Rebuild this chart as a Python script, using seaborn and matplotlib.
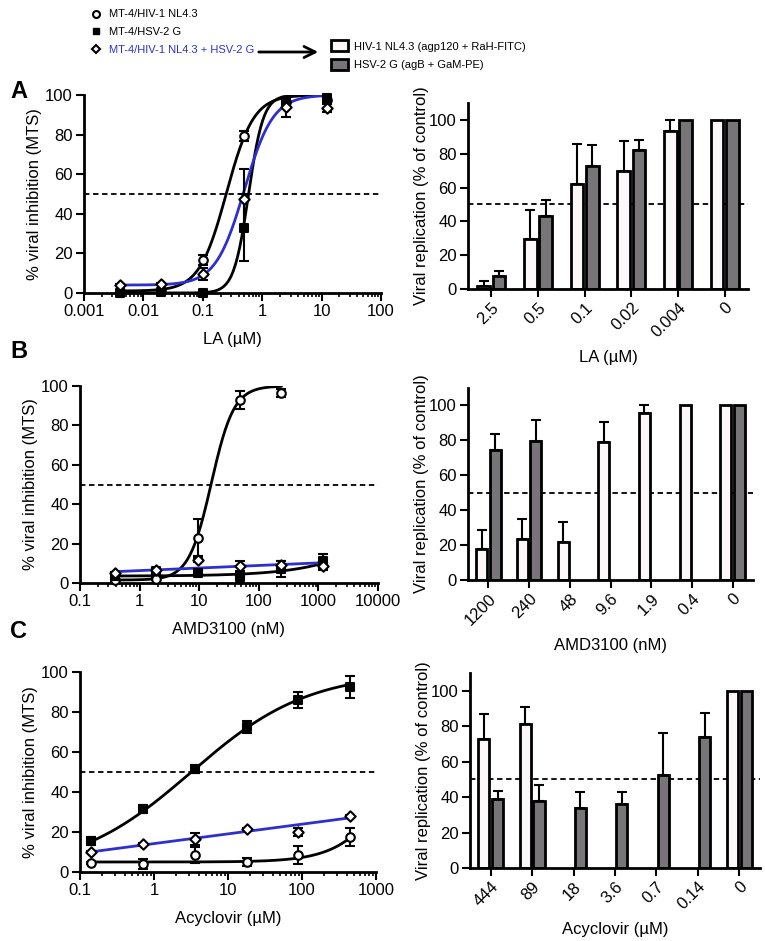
import numpy as np
import pandas as pd
import matplotlib
matplotlib.use("Agg")
import matplotlib.pyplot as plt
import seaborn as sns
from matplotlib.lines import Line2D
from matplotlib.patches import Patch, FancyArrowPatch
from matplotlib.ticker import FixedLocator, FuncFormatter, LogLocator, NullFormatter

sns.set_theme(style="ticks")
plt.rcParams["font.family"] = ["Liberation Sans", "DejaVu Sans"]
plt.rcParams["text.color"] = "black"
plt.rcParams["axes.labelcolor"] = "black"
plt.rcParams["xtick.color"] = "black"
plt.rcParams["ytick.color"] = "black"
plt.rcParams["axes.edgecolor"] = "black"

# =====================================
# Data
# =====================================

# --- A: LA dose response ---
la_conc = [0.004, 0.02, 0.1, 0.5, 2.5, 12.5]
a_hiv = [0.8, 1.2, 16.5, 79.5, 96.5, 97.5]
a_hiv_sd = [0.5, 0.5, 2.5, 2.5, 1.5, 1.5]
a_hsv = [0.0, 0.5, 0.0, 33.0, 97.0, 98.5]
a_hsv_sd = [0.3, 0.3, 0.3, 17.0, 2.0, 1.0]
a_mix = [4.0, 4.5, 9.5, 47.5, 94.0, 93.5]
a_mix_sd = [0.5, 0.5, 3.0, 15.0, 5.0, 2.0]
# 4PL fits: bottom, top, EC50, hill
a_hiv_fit = [1.0, 100.0, 0.25, 1.9]
a_hsv_fit = [0.0, 100.0, 0.59, 3.5]
a_mix_fit = [4.0, 100.0, 0.5, 1.8]

la_bar_labels = ["2.5", "0.5", "0.1", "0.02", "0.004", "0"]
la_bar_hiv = [2.0, 29.5, 62.0, 69.5, 93.5, 100.0]
la_bar_hiv_sd = [2.9, 17.5, 23.5, 18.2, 6.5, 0.0]
la_bar_hsv = [7.8, 43.0, 72.5, 82.0, 100.0, 100.0]
la_bar_hsv_sd = [2.6, 9.5, 12.5, 6.2, 0.0, 0.0]

# --- B: AMD3100 dose response ---
amd_conc = [0.38, 1.9, 9.6, 48, 240, 1200]
b_hiv = [1.5, 2.0, 23.0, 93.0, 96.5, np.nan]
b_hiv_sd = [0.5, 0.5, 9.5, 4.5, 2.0, np.nan]
b_hsv = [3.6, 6.0, 5.0, 2.8, 7.0, 11.2]
b_hsv_sd = [0.5, 1.0, 1.0, 3.0, 4.0, 3.5]
b_mix = [5.0, 6.5, 11.5, 8.7, 9.0, 8.7]
b_mix_sd = [0.5, 0.5, 1.0, 2.5, 2.0, 2.0]
b_hiv_fit = [1.5, 100.0, 16.0, 2.3]
b_hsv_fit = [3.5, 100.0, 95000.0, 0.6]
b_mix_line = [6.3, 1.3]  # intercept, slope vs log10(conc)

amd_bar_labels = ["1200", "240", "48", "9.6", "1.9", "0.4", "0"]
amd_bar_hiv = [17.6, 23.4, 21.6, 79.1, 95.8, 100.0, 100.0]
amd_bar_hiv_sd = [10.8, 11.5, 11.9, 11.3, 4.2, 0.0, 0.0]
amd_bar_hsv = [74.3, 79.9, np.nan, np.nan, np.nan, np.nan, 100.0]
amd_bar_hsv_sd = [9.4, 11.7, np.nan, np.nan, np.nan, np.nan, 0.0]

# --- C: Acyclovir dose response ---
acv_conc = [0.14, 0.7, 3.6, 18, 89, 444]
c_hiv = [4.5, 4.0, 8.5, 5.0, 8.5, 17.5]
c_hiv_sd = [0.5, 2.5, 4.0, 2.0, 4.5, 4.5]
c_hsv = [15.5, 31.6, 51.5, 72.5, 85.8, 92.5]
c_hsv_sd = [2.0, 2.0, 2.0, 3.0, 4.0, 5.5]
c_mix = [10.0, 14.0, 16.5, 21.5, 20.0, 28.0]
c_mix_sd = [0.5, 0.5, 3.0, 0.5, 2.0, 0.5]
c_hiv_fit = [5.0, 100.0, 2250.0, 1.19]
c_hsv_fit = [0.0, 100.0, 3.2, 0.55]
c_mix_line = [14.2, 4.86]

acv_bar_labels = ["444", "89", "18", "3.6", "0.7", "0.14", "0"]
acv_bar_hiv = [72.5, 81.5, np.nan, np.nan, np.nan, np.nan, 100.0]
acv_bar_hiv_sd = [14.3, 9.1, np.nan, np.nan, np.nan, np.nan, 0.0]
acv_bar_hsv = [38.8, 37.7, 33.9, 36.0, 52.4, 73.8, 100.0]
acv_bar_hsv_sd = [4.9, 9.0, 9.0, 6.6, 23.9, 13.8, 0.0]

# =====================================
# Styles
# =====================================

BLUE = "#2f2fd0"
WHITE_BAR = "#fdf6f8"
GRAY_BAR = "#78747a"
FS = 12
LEG_FS = 8

W, H = 765, 941
fig = plt.figure(figsize=(W / 100, H / 100), dpi=100)


def px_axes(x0, y0, x1, y1):
    return fig.add_axes([x0 / W, 1 - y1 / H, (x1 - x0) / W, (y1 - y0) / H])


def four_pl(x, p):
    bottom, top, ec50, hill = p
    return bottom + (top - bottom) / (1 + (ec50 / x) ** hill)


def style_axis(ax):
    sns.despine(ax=ax)
    for s in ["left", "bottom"]:
        ax.spines[s].set_linewidth(2)
    ax.tick_params(axis="both", which="major", direction="out", length=6,
                   width=1.5, labelsize=FS, color="black", pad=2)
    ax.tick_params(axis="both", which="minor", direction="out", length=3,
                   width=1.2, color="black")


def dose_panel(ax, conc, series, xlim, xticks, xlabel):
    ax.set_xscale("log")
    ax.axhline(50, color="black", ls=(0, (3, 2)), lw=1.3, zorder=1)
    for vals, sd, fit, kind, marker, face, line_color, x_end in series:
        xs = np.logspace(np.log10(conc[0]), np.log10(x_end), 200)
        if kind == "4pl":
            ys = four_pl(xs, fit)
        else:
            ys = fit[0] + fit[1] * np.log10(xs)
        sns.lineplot(x=xs, y=ys, color=line_color, lw=2, ax=ax, zorder=2,
                     legend=False, sort=False)
    for vals, sd, fit, kind, marker, face, line_color, x_end in series:
        ax.errorbar(conc, vals, yerr=sd, fmt="none", ecolor="black",
                    elinewidth=1.5, capsize=3.5, capthick=1.5, zorder=3,
                    clip_on=False)
        sns.scatterplot(x=conc, y=vals, marker=marker,
                        s=38 if marker != "D" else 28,
                        color=face, edgecolor="black", linewidth=1.5, zorder=4,
                        clip_on=False, legend=False, ax=ax)
    ax.set_xlim(*xlim)
    ax.set_ylim(0, 100)
    ax.set_yticks([0, 20, 40, 60, 80, 100])
    ax.xaxis.set_major_locator(FixedLocator(xticks))
    ax.xaxis.set_major_formatter(FuncFormatter(lambda v, p: f"{v:g}"))
    ax.xaxis.set_minor_locator(LogLocator(base=10, subs=np.arange(2, 10), numticks=50))
    ax.xaxis.set_minor_formatter(NullFormatter())
    ax.set_xlabel(xlabel, fontsize=FS, labelpad=9)
    ax.set_ylabel("% viral inhibition (MTS)", fontsize=FS, labelpad=2)
    style_axis(ax)


def bar_panel(ax, labels, hiv, hiv_sd, hsv, hsv_sd, xlabel):
    n = len(labels)
    df = pd.DataFrame({
        "conc": labels * 2,
        "virus": ["HIV"] * n + ["HSV"] * n,
        "value": list(hiv) + list(hsv),
        "sd": list(hiv_sd) + list(hsv_sd),
    }).dropna(subset=["value"])
    ax.axhline(50, color="black", ls=(0, (3, 2)), lw=1.3, zorder=0)
    sns.barplot(data=df, x="conc", y="value", hue="virus", order=labels,
                hue_order=["HIV", "HSV"], palette=[WHITE_BAR, GRAY_BAR],
                edgecolor="black", linewidth=2, width=0.66, gap=0.18,
                errorbar=None, legend=False, ax=ax, zorder=2)
    offset = {"HIV": -0.165, "HSV": 0.165}
    for row in df.itertuples():
        if row.sd > 0:
            x = labels.index(row.conc) + offset[row.virus]
            ax.errorbar(x, row.value, yerr=[[0], [row.sd]], fmt="none",
                        ecolor="black", elinewidth=1.5, capsize=3.5,
                        capthick=1.5, zorder=1)
    ax.set_xlim(-0.5, n - 0.5)
    ax.set_ylim(0, 110)
    ax.set_yticks([0, 20, 40, 60, 80, 100])
    plt.setp(ax.get_xticklabels(), rotation=45, ha="right",
             rotation_mode="anchor")
    ax.set_xlabel(xlabel, fontsize=FS, labelpad=7)
    ax.set_ylabel("Viral replication (% of control)", fontsize=FS, labelpad=0)
    style_axis(ax)


# =====================================
# Panels
# =====================================

ax_a = px_axes(84, 95, 381, 293)
dose_panel(ax_a, la_conc, [
    (a_hiv, a_hiv_sd, a_hiv_fit, "4pl", "o", "white", "black", 12.5),
    (a_hsv, a_hsv_sd, a_hsv_fit, "4pl", "s", "black", "black", 12.5),
    (a_mix, a_mix_sd, a_mix_fit, "4pl", "D", "white", BLUE, 12.5),
], (0.001, 100), [0.001, 0.01, 0.1, 1, 10, 100], "LA (µM)")

ax_b = px_axes(80, 386, 378, 583)
dose_panel(ax_b, amd_conc, [
    (b_hiv, b_hiv_sd, b_hiv_fit, "4pl", "o", "white", "black", 240),
    (b_hsv, b_hsv_sd, b_hsv_fit, "4pl", "s", "black", "black", 1200),
    (b_mix, b_mix_sd, b_mix_line, "lin", "D", "white", BLUE, 1200),
], (0.1, 10000), [0.1, 1, 10, 100, 1000, 10000], "AMD3100 (nM)")

ax_c = px_axes(80, 672, 376, 872)
dose_panel(ax_c, acv_conc, [
    (c_hiv, c_hiv_sd, c_hiv_fit, "4pl", "o", "white", "black", 444),
    (c_hsv, c_hsv_sd, c_hsv_fit, "4pl", "s", "black", "black", 444),
    (c_mix, c_mix_sd, c_mix_line, "lin", "D", "white", BLUE, 444),
], (0.1, 1000), [0.1, 1, 10, 100, 1000], "Acyclovir (µM)")

bar_panel(px_axes(468, 103, 748, 289), la_bar_labels, la_bar_hiv,
          la_bar_hiv_sd, la_bar_hsv, la_bar_hsv_sd, "LA (µM)")
bar_panel(px_axes(468, 388, 753, 580), amd_bar_labels, amd_bar_hiv,
          amd_bar_hiv_sd, amd_bar_hsv, amd_bar_hsv_sd, "AMD3100 (nM)")
bar_panel(px_axes(470, 673, 760, 868), acv_bar_labels, acv_bar_hiv,
          acv_bar_hiv_sd, acv_bar_hsv, acv_bar_hsv_sd, "Acyclovir (µM)")

# =====================================
# Legends, arrow, panel letters
# =====================================

marker_handles = [
    Line2D([], [], ls="none", marker="o", ms=5, mfc="white", mec="black", mew=1.5),
    Line2D([], [], ls="none", marker="s", ms=5, mfc="black", mec="black"),
    Line2D([], [], ls="none", marker="D", ms=4.5, mfc="white", mec="black", mew=1.5),
]
leg1 = fig.legend(marker_handles,
                  ["MT-4/HIV-1 NL4.3", "MT-4/HSV-2 G", "MT-4/HIV-1 NL4.3 + HSV-2 G"],
                  loc="upper left", bbox_to_anchor=(86 / W, 1 - 5 / H),
                  frameon=False, fontsize=LEG_FS, handlelength=1.0,
                  handletextpad=0.7, labelspacing=0.7, borderaxespad=0)
leg1.get_texts()[2].set_color(BLUE)

bar_handles = [
    Patch(facecolor=WHITE_BAR, edgecolor="black", linewidth=2),
    Patch(facecolor=GRAY_BAR, edgecolor="black", linewidth=2),
]
fig.legend(bar_handles,
           ["HIV-1 NL4.3 (agp120 + RaH-FITC)", "HSV-2 G (agB + GaM-PE)"],
           loc="upper left", bbox_to_anchor=(327 / W, 1 - 36 / H),
           frameon=False, fontsize=LEG_FS, handlelength=1.5,
           handleheight=1.1, handletextpad=0.5, labelspacing=0.7,
           borderaxespad=0)

fig.add_artist(FancyArrowPatch(
    (256 / W, 1 - 52 / H), (321 / W, 1 - 52 / H), transform=fig.transFigure,
    arrowstyle="->", mutation_scale=20, lw=2, color="black"))

for letter, y in [("A", 92), ("B", 352), ("C", 632)]:
    fig.text(10 / W, 1 - y / H, letter, fontsize=17, fontweight="bold",
             va="center", ha="left")

fig.savefig("out.png", dpi=100)
